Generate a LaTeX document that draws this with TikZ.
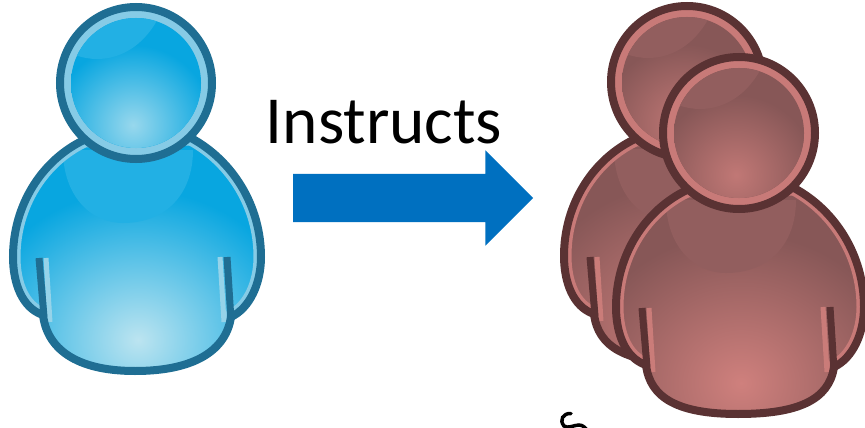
\documentclass[tikz,border=0pt]{standalone}
\usepackage{fontspec}
\setmainfont{Carlito}
\usetikzlibrary{shapes.arrows, positioning}
\definecolor{blueline}{HTML}{1F6E93}
\definecolor{bluerim}{HTML}{86CBE6}
\definecolor{bluebase}{HTML}{08A6E0}
\definecolor{bluegloss}{HTML}{22B0E4}
\definecolor{bluelight}{HTML}{BCE4F0}
\definecolor{redline}{HTML}{5A3233}
\definecolor{redrim}{HTML}{C87A78}
\definecolor{redbase}{HTML}{875757}
\definecolor{redgloss}{HTML}{925E5E}
\definecolor{redlight}{HTML}{CF807D}
\definecolor{arrowblue}{HTML}{0070C0}

\tikzset{
    blueperson/.code={\colorlet{pline}{blueline}\colorlet{prim}{bluerim}\colorlet{pbase}{bluebase}\colorlet{pgloss}{bluegloss}\colorlet{plight}{bluelight}\def\persondrop{0}},
    redperson/.code={\colorlet{pline}{redline}\colorlet{prim}{redrim}\colorlet{pbase}{redbase}\colorlet{pgloss}{redgloss}\colorlet{plight}{redlight}\def\persondrop{-7}},
    torso/.style={inner color=plight, outer color=pbase},
    person/.pic={
        % Body
        \def\bodypath{(84,140) .. controls (42,160) and (13,205) .. (13,257)
            .. controls (13,283) and (22,308) .. (43,315)
            .. controls (47,348) and (75,{371+\persondrop}) .. (135,{371+\persondrop})
            .. controls (195,{371+\persondrop}) and (226,350) .. (231,317)
            .. controls (250,308) and (261,283) .. (261,257)
            .. controls (261,205) and (232,160) .. (191,138) -- cycle}
        \begin{scope}
            \clip \bodypath;
            \fill[pbase] (0,100) rectangle (280,400);
            \shade[torso] (138,{340+\persondrop}) ellipse (165 and 150);
            \fill[pgloss] (63,150) .. controls (63,195) and (90,223) .. (123,223)
                .. controls (165,223) and (193,195) .. (193,150) -- cycle;
            \draw[prim, line width=15pt] \bodypath;
            \clip (48,300) rectangle (226,400);
            \shade[torso] (138,{340+\persondrop}) ellipse (165 and 150);
        \end{scope}
        \draw[prim!70!plight, line width=5pt] (46,258) -- (50,322);
        \draw[prim!70!plight, line width=5pt] (220,257) -- (224,322);
        \draw[pline, line width=8pt] \bodypath;
        \draw[pline, line width=7pt] (39,258) -- (44,317);
        \draw[pline, line width=7pt] (227,257) -- (231,320);
        % Head
        \fill[prim] (136,83) circle (76);
        \begin{scope}
            \clip (136,83) circle (65);
            \fill[pbase] (60,0) rectangle (210,160);
            \shade[inner color=plight!80!pbase, outer color=pbase] (133,125) circle (80);
            \fill[pgloss] (60,10) -- (60,50) -- (75,55) .. controls (105,66) and (140,55) .. (160,15) -- cycle;
        \end{scope}
        \draw[pline, line width=8pt] (136,83) circle (76);
    }
}

\begin{document}
\begin{tikzpicture}[
    x=1pt, y=-1pt,
    label text/.style={font=\fontsize{67.3}{67.3}\selectfont, inner sep=0pt, text=black},
    block arrow/.style={single arrow, fill=arrowblue, inner sep=0pt, text height=48pt, text depth=0pt, minimum width=95pt, minimum height=240pt, single arrow head extend=23.5pt, single arrow head indent=0pt},
]
\useasboundingbox (0,0) rectangle (865,428);
\clip (0,0) rectangle (865,428);

% Instructor
\pic[blueperson] (instructor) at (0,0) {person};

% Followers
\pic[redperson] (follower back) at (551,-1) {person};
\pic[redperson] (follower front) at (603,50) {person};

% Label and arrow
\node[label text] (instructs) at (384,122) {Instructs};
\node[block arrow] (instructarrow) at (401,198) {};

% Cut off mark at the bottom
\draw[black, line width=3.5pt, line cap=round] (571,413.5) .. controls (563,413) and (559,420) .. (564,426)
    .. controls (568,429) and (574,425) .. (579,425) .. controls (583,425) and (586,428) .. (588,432);

\end{tikzpicture}
\end{document}
